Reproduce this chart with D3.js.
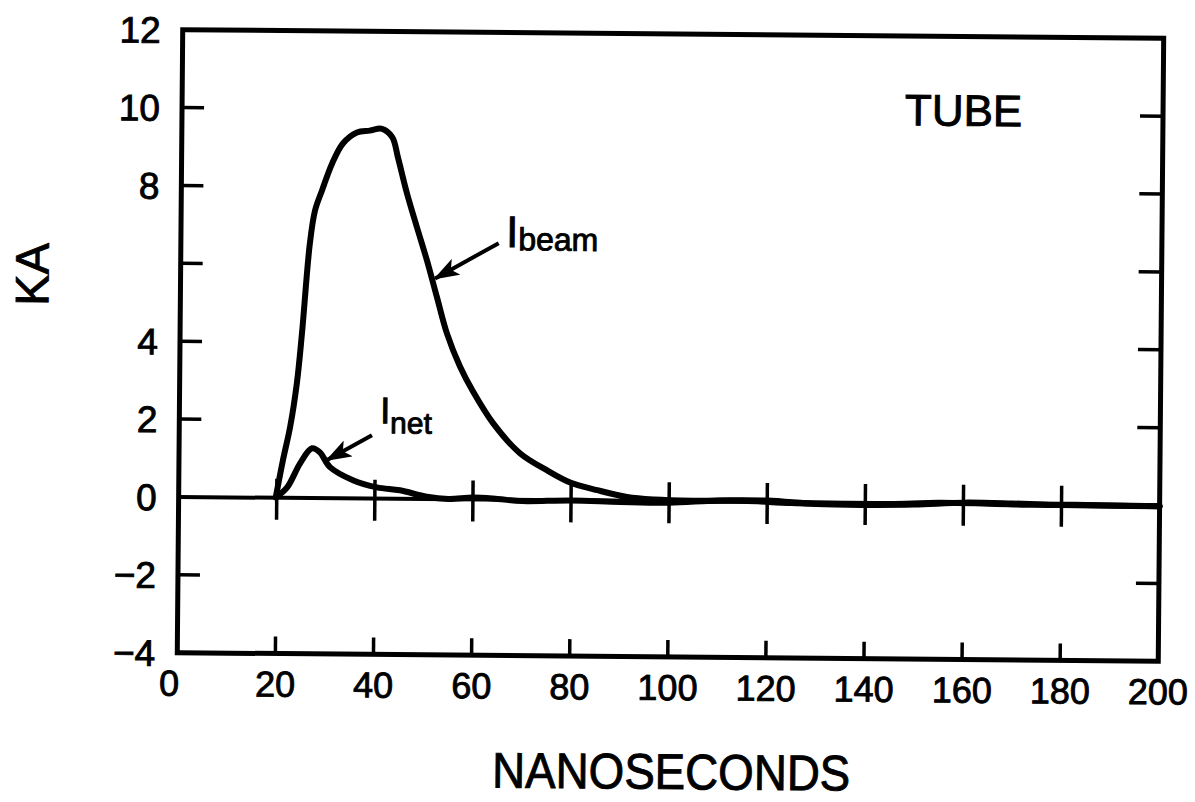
<!DOCTYPE html>
<html>
<head>
<meta charset="utf-8">
<script src="https://cdn.jsdelivr.net/npm/d3@7"></script>
<style>
    html, body { margin: 0; padding: 0; background: #fff; }
    svg { display: block; }
    text { font-family: "Liberation Sans", Arial, sans-serif; fill: #000; stroke: #000; stroke-width: 0.9px; }
</style>
</head>
<body>
<div id="chart"></div>
<script>
// tick values and labels
const X_TICKS = [0, 20, 40, 60, 80, 100, 120, 140, 160, 180, 200];
const Y_TICKS = [12, 10, 8, 6, 4, 2, 0, -2, -4];
const Y_LABELS = ['12', '10', '8', '', '4', '2', '0', '\u22122', '\u22124'];

// I_beam trace (ns, kA)
const BEAM_T = [19.8, 21.2, 22.6, 23.9, 24.85, 26.3, 27.3, 28.7, 30.7, 32.9, 35.7, 38.3, 40.8, 42.9, 44.1,
    46.0, 48.1, 50.2, 52.3, 54.4, 57.1, 59.8, 64.0, 69.5, 75.0, 79.8, 85.3, 91.4, 97, 105, 115, 125, 135,
    145, 155, 165, 175, 185, 200];
const BEAM_KA = [0.01, 0.97, 1.82, 2.95, 4.23, 6.54, 7.39, 7.91, 8.60, 9.12, 9.40, 9.45, 9.50, 9.29, 8.77,
    7.85, 6.98, 6.13, 5.19, 4.26, 3.42, 2.78, 1.96, 1.20, 0.77, 0.46, 0.27, 0.10, 0.04, 0.02, 0.03, -0.02, -0.03,
    -0.02, 0.02, 0.01, -0.01, 0.0, -0.02];

// I_net trace
const NET_T = [19.8, 22.1, 24.7, 27.1, 28.7, 30.8, 35.5, 40.4, 45.1, 50.6, 55, 60, 65, 70, 80, 90, 100,
    110, 120, 130, 140, 150, 160, 170, 180, 190, 200];
const NET_KA = [0.01, 0.27, 0.89, 1.28, 1.18, 0.80, 0.47, 0.29, 0.22, 0.06, 0.01, 0.05, 0.02, -0.03, 0.0,
    -0.03, -0.04, 0.03, 0.04, -0.04, -0.05, -0.03, 0.03, 0.02, -0.01, -0.02, -0.02];

// annotations, in data units: [tail ns, tail kA, tip ns, tip kA]
const ARROWS = [[64.8, 6.59, 51.9, 5.67], [39.3, 1.63, 30.2, 0.98]];
const LABELS = [
    { t: 66.3, ka: 6.49, main: 'I', sub: 'beam', size: 44, subSize: 32, dx: 0, dy: 3 },
    { t: 40.9, ka: 1.94, main: 'I', sub: 'net', size: 37, subSize: 30, dx: 0, dy: 10 }
];

const CONFIG = {
    WIDTH: 1195, HEIGHT: 802,
    LEFT: 180, RIGHT: 1161, TOP: 34, BOTTOM: 657,
    TILT: 0.5   // the scan is turned a little clockwise
};

class TubePlot {
    constructor(parent) {
        this.ROOT = d3.select(parent).append('svg')
            .attr('width', CONFIG.WIDTH)
            .attr('height', CONFIG.HEIGHT);

        this.x = d3.scaleLinear().domain([0, 200]).range([CONFIG.LEFT, CONFIG.RIGHT]);
        this.y = d3.scaleLinear().domain([-4, 12]).range([CONFIG.BOTTOM, CONFIG.TOP]);

        this.MAIN = this.ROOT.append('g')
            .attr('transform', `rotate(${CONFIG.TILT}, 671, 344)`);
    }

    draw() {
        this.drawFrame();
        this.drawTraces();
        this.drawLabels();
        this.drawNotes();
    }

    drawFrame() {
        const x = this.x, y = this.y, g = this.MAIN;

        g.append('rect')
            .attr('x', x(0)).attr('y', y(12))
            .attr('width', x(200) - x(0)).attr('height', y(-4) - y(12))
            .attr('fill', 'none').attr('stroke', '#000').attr('stroke-width', 5);

        // zero line
        g.append('line')
            .attr('x1', x(0)).attr('x2', x(200))
            .attr('y1', y(0)).attr('y2', y(0))
            .attr('stroke', '#000').attr('stroke-width', 4);

        const inner = X_TICKS.slice(1, -1);
        const ticks = g.append('g').attr('stroke', '#000').attr('stroke-width', 3.5);

        ticks.selectAll('.tb').data(inner).join('line')
            .attr('class', 'tb')
            .attr('x1', d => x(d)).attr('x2', d => x(d))
            .attr('y1', y(-4)).attr('y2', y(-4) - 17);

        ticks.selectAll('.tz').data(inner).join('line')
            .attr('class', 'tz')
            .attr('x1', d => x(d)).attr('x2', d => x(d))
            .attr('y1', y(0) - 19).attr('y2', y(0) + 22);

        const yInner = Y_TICKS.filter(d => d !== 0 && d !== 12 && d !== -4);
        ticks.selectAll('.tl').data(yInner).join('line')
            .attr('class', 'tl')
            .attr('x1', x(0)).attr('x2', x(0) + 22)
            .attr('y1', d => y(d)).attr('y2', d => y(d));
        ticks.selectAll('.tr').data(yInner).join('line')
            .attr('class', 'tr')
            .attr('x1', x(200)).attr('x2', x(200) - 23)
            .attr('y1', d => y(d)).attr('y2', d => y(d));

        g.selectAll('.xl').data(X_TICKS).join('text')
            .attr('class', 'xl')
            .attr('x', (d, i) => x(d) + (i === 0 ? -8 : 0))
            .attr('y', 700)
            .attr('text-anchor', 'middle')
            .attr('font-size', 36)
            .text(d => d);

        g.selectAll('.yl').data(Y_TICKS).join('text')
            .attr('class', 'yl')
            .attr('x', x(0) - 22)
            .attr('y', d => y(d))
            .attr('dy', '0.36em')
            .attr('text-anchor', 'end')
            .attr('font-size', 37)
            .text((d, i) => Y_LABELS[i]);
    }

    drawTraces() {
        const line = d3.line()
            .x(d => this.x(d[0]))
            .y(d => this.y(d[1]))
            .curve(d3.curveCatmullRom.alpha(0.5));

        const beam = BEAM_T.map((t, i) => [t, BEAM_KA[i]]);
        const net = NET_T.map((t, i) => [t, NET_KA[i]]);

        this.MAIN.selectAll('.trace').data([beam, net]).join('path')
            .attr('class', 'trace')
            .attr('d', line)
            .attr('fill', 'none')
            .attr('stroke', '#000')
            .attr('stroke-width', 6)
            .attr('stroke-linejoin', 'round')
            .attr('stroke-linecap', 'round');
    }

    drawLabels() {
        this.MAIN.append('text')
            .attr('transform', 'translate(48, 280) rotate(-90)')
            .attr('text-anchor', 'middle')
            .attr('font-size', 47)
            .text('KA');

        this.MAIN.append('text')
            .attr('x', 675).attr('y', 789)
            .attr('text-anchor', 'middle')
            .attr('font-size', 50)
            .attr('textLength', 358)
            .attr('lengthAdjust', 'spacingAndGlyphs')
            .text('NANOSECONDS');

        this.MAIN.append('text')
            .attr('x', this.x(147.8) - 2).attr('y', this.y(9.71))
            .attr('font-size', 44)
            .text('TUBE');
    }

    drawNotes() {
        const defs = this.ROOT.append('defs');
        defs.append('marker')
            .attr('id', 'head')
            .attr('markerUnits', 'userSpaceOnUse')
            .attr('viewBox', '0 0 26 18')
            .attr('refX', 24).attr('refY', 9)
            .attr('markerWidth', 26).attr('markerHeight', 18)
            .attr('orient', 'auto')
            .append('path')
            .attr('d', 'M0,0 L26,9 L0,18 L6,9 Z')
            .attr('fill', '#000');

        this.MAIN.selectAll('.arrow').data(ARROWS).join('line')
            .attr('class', 'arrow')
            .attr('x1', d => this.x(d[0])).attr('y1', d => this.y(d[1]))
            .attr('x2', d => this.x(d[2])).attr('y2', d => this.y(d[3]))
            .attr('stroke', '#000').attr('stroke-width', 4)
            .attr('marker-end', 'url(#head)');

        const notes = this.MAIN.selectAll('.note').data(LABELS).join('text')
            .attr('class', 'note')
            .attr('x', d => this.x(d.t))
            .attr('y', d => this.y(d.ka))
            .attr('font-size', d => d.size);
        notes.append('tspan').text(d => d.main);
        notes.append('tspan')
            .attr('dx', d => d.dx).attr('dy', d => d.dy)
            .attr('font-size', d => d.subSize)
            .text(d => d.sub);
    }
}

const plot = new TubePlot(document.getElementById('chart'));
plot.draw();
</script>
</body>
</html>
